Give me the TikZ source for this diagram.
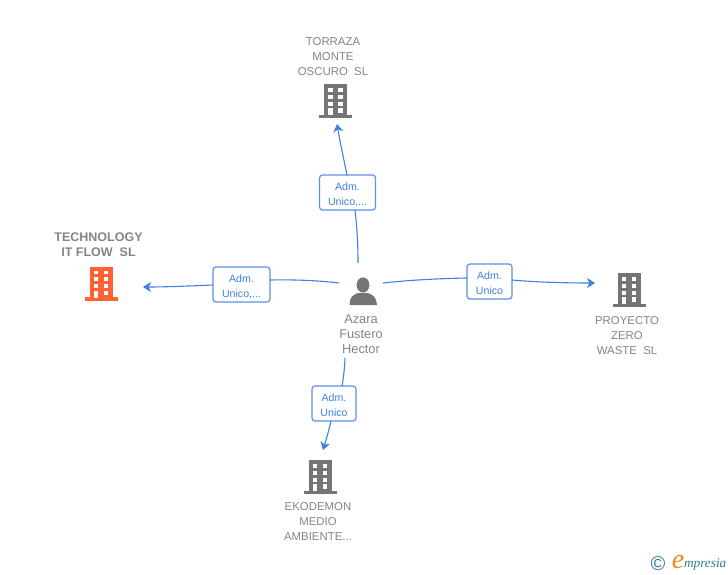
\documentclass[tikz,border=0pt]{standalone}
\usepackage{fontspec}
\setmainfont{Liberation Sans}
\newfontfamily\logofont{Liberation Serif}
\usetikzlibrary{arrows.meta}
\definecolor{linkblue}{HTML}{3F80E0}
\definecolor{boxblue}{HTML}{5B93E6}
\definecolor{grayicon}{HTML}{757575}
\definecolor{graytext}{HTML}{858585}
\definecolor{orangeicon}{HTML}{FF6233}
\definecolor{logoteal}{HTML}{2F7C96}
\definecolor{logoorange}{HTML}{F08A1D}
\tikzset{
  every node/.style={inner sep=0pt,outer sep=0pt},
  linkline/.style={draw=linkblue,line width=1.1pt},
  linkarrow/.style={linkline,-{Stealth[length=8pt,width=10pt,inset=2.5pt]}},
  rolebox/.style={draw=boxblue,line width=1.2pt,rounded corners=3pt,fill=white,align=center,
    text=linkblue,font=\fontsize{10.6}{15}\selectfont,minimum height=35pt,text height=26.5pt},
  complabel/.style={text=graytext,align=center,font=\fontsize{11.4}{15}\selectfont},
  boldlabel/.style={text=graytext,align=center,font=\fontsize{12.5}{14.7}\selectfont\bfseries},
  personlabel/.style={text=graytext,align=center,font=\fontsize{12.8}{15}\selectfont},
  anchorbox/.style={minimum width=33pt,minimum height=35pt},
  pics/building/.style={code={
    \fill[#1] (-11.5,-34) rectangle (11.5,-3);
    \fill[#1] (-16.5,-3.3) rectangle (16.5,0);
    \fill[white] (-7.5,-30) rectangle (-3,-26.5);
    \fill[white] (2.5,-30) rectangle (7,-26.5);
    \fill[white] (-7.5,-23.5) rectangle (-3,-19.5);
    \fill[white] (2.5,-23.5) rectangle (7,-19.5);
    \fill[white] (-7.5,-16.5) rectangle (-3,-12.5);
    \fill[white] (2.5,-16.5) rectangle (7,-12.5);
    \fill[white] (-7.5,-10) rectangle (-3,-3);
    \fill[white] (2.5,-10) rectangle (7,-5.5);
  }}
}
\begin{document}
\begin{tikzpicture}[x=1pt,y=-1pt]
\useasboundingbox (0,0) rectangle (728,575);
\fill[white] (0,0) rectangle (728,575);

% icons
\pic at (335.5,118.5) {building=grayicon};
\pic at (101,300.5) {building=orangeicon};
\pic at (629,307) {building=grayicon};
\pic at (320,494) {building=grayicon};
\node[anchorbox] (torraza) at (335.5,101) {};
\node[anchorbox] (technology) at (101,283) {};
\node[anchorbox] (proyecto) at (629,289.5) {};
\node[anchorbox] (ekodemon) at (320,476.5) {};

% person
\node[minimum width=28pt,minimum height=28pt] (person) at (363,291) {};
\fill[grayicon] (363,285) ellipse (6.4pt and 7.6pt);
\fill[grayicon] (349.5,305) .. controls (350,297) and (352,295.5) .. (358,293)
  -- (368,293) .. controls (374,295.5) and (376,297) .. (377,305) -- cycle;

% texts
\node[complabel] (torrazat) at (333,56.5) {TORRAZA\\MONTE\\OSCURO\ \ SL};
\node[boldlabel] (technologyt) at (98.5,245) {TECHNOLOGY\\IT FLOW\ \ SL};
\node[complabel] (proyectot) at (627,335.5) {PROYECTO\\ZERO\\WASTE\ \ SL};
\node[complabel] (ekodemont) at (318,521.5) {EKODEMON\\MEDIO\\AMBIENTE...};
\node[personlabel] (personname) at (361,334) {Azara\\Fustero\\Hector};

% role boxes
\node[rolebox,minimum width=56pt] (rtop) at (347.5,192.5) {Adm.\\Unico,...};
\node[rolebox,minimum width=57pt] (rleft) at (241.5,284.5) {Adm.\\Unico,...};
\node[rolebox,minimum width=45pt] (rright) at (489.5,281.5) {Adm.\\Unico};
\node[rolebox,minimum width=44pt] (rbottom) at (334,403.5) {Adm.\\Unico};

% connector free ends
\coordinate (ptop) at (358,263);
\coordinate (pleft) at (339,283);
\coordinate (pright) at (383,283);
\coordinate (pbottom) at (345,358);

% connectors
\draw[linkline] (ptop) .. controls (358,243) and (357,228) .. ([shift={(7.5,0)}]rtop.south);
\draw[linkarrow] ([shift={(-0.5,0)}]rtop.north) .. controls (344,160) and (340,142) .. ([shift={(1.5,5.5)}]torraza.south);
\draw[linkline] (pleft) .. controls (318,280.5) and (295,279.5) .. ([shift={(0,-4.5)}]rleft.east);
\draw[linkarrow] ([shift={(0,0.5)}]rleft.west) .. controls (190,286) and (165,287) .. ([shift={(25.5,4)}]technology.east);
\draw[linkline] (pright) .. controls (410,280) and (440,278.5) .. ([shift={(0,-3.5)}]rright.west);
\draw[linkarrow] ([shift={(0,-1.5)}]rright.east) .. controls (540,282.5) and (570,283) .. ([shift={(-17.5,-6.5)}]proyecto.west);
\draw[linkline] (pbottom) .. controls (344.5,368) and (343.5,378) .. ([shift={(8,0)}]rbottom.north);
\draw[linkarrow] ([shift={(-3,0)}]rbottom.south) .. controls (329,430) and (326,440) .. ([shift={(3,-9)}]ekodemon.north);

% logo
\node[text=logoteal,font=\fontsize{20}{20}\selectfont] (copy) at (658,564) {©};
\node[text=logoorange,font=\logofont\itshape\fontsize{28}{28}\selectfont] (loge) at (678,562) {e};
\node[text=logoteal,anchor=west,font=\logofont\itshape\fontsize{13.3}{14}\selectfont] (logotext) at (684,565) {mpresia};
\end{tikzpicture}
\end{document}
